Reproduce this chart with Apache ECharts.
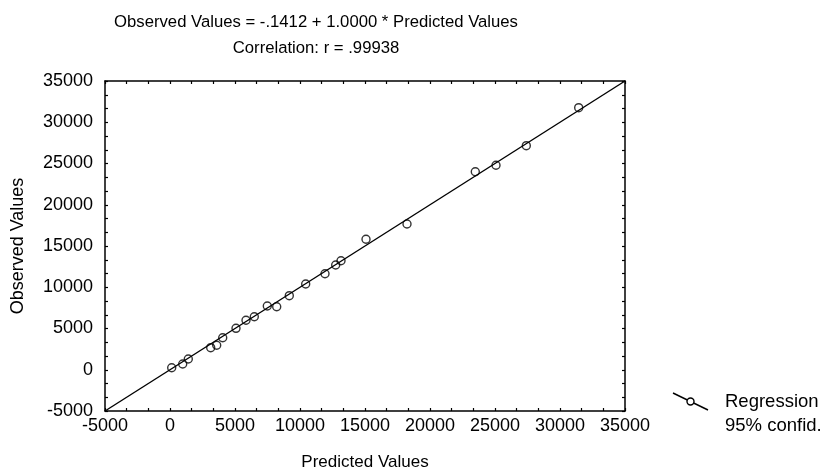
<!DOCTYPE html>
<html>
<head>
<meta charset="utf-8">
<script src="https://cdn.jsdelivr.net/npm/echarts@6/dist/echarts.min.js"></script>
<style>
  html, body { margin: 0; padding: 0; background: #fff; }
  #chart { width: 824px; height: 471px; }
</style>
</head>
<body>
<div id="chart"></div>
<script>
// values
const predicted = [131, 977, 1408, 3131, 3592, 4054, 5077, 5846, 6485, 7485, 8208,
  9177, 10438, 11923, 12746, 13154, 15077, 18231, 23485, 25077, 27408, 31438];
const observed = [248, 697, 1303, 2673, 2964, 3885, 5024, 5994, 6430, 7727, 7642,
  8976, 10394, 11642, 12697, 13218, 15812, 17667, 24006, 24782, 27158, 31764];

// fitted line: Observed = -.1412 + 1.0000 * Predicted, drawn across the axis range
const lineX = [-5000, 35000];
const lineY = [-5000.1412, 34999.8588];

const titleLines = ['Observed Values = -.1412 + 1.0000 * Predicted Values', 'Correlation: r = .99938'];
const legendLabels = ['Regression', '95% confid.'];

const FONT = '"Liberation Sans", Arial, sans-serif';

const chart = echarts.init(document.getElementById('chart'));

const baseAxis = {
  type: 'value',
  min: -5000,
  max: 35000,
  interval: 5000,
  axisLine: { show: true, onZero: false, lineStyle: { color: '#000', width: 1.5 } },
  axisTick: { show: true, inside: true, length: 3, lineStyle: { color: '#000', width: 1.2 } },
  minorTick: { show: true, splitNumber: 3, length: 3, lineStyle: { color: '#000', width: 1.2 } },
  splitLine: { show: false },
  axisLabel: {
    color: '#000',
    fontFamily: FONT,
    fontSize: 18,
    formatter: (v) => String(v),
  },
};

chart.setOption({
  animation: false,
  grid: { left: 105, right: 199, top: 81, bottom: 60, containLabel: false, outerBoundsMode: 'none' },
  xAxis: [
    {
      ...baseAxis,
      position: 'bottom',
      name: 'Predicted Values',
      nameLocation: 'middle',
      nameGap: 43,
      nameTextStyle: { color: '#000', fontFamily: FONT, fontSize: 17 },
      axisLabel: { ...baseAxis.axisLabel, margin: 6 },
    },
    { ...baseAxis, position: 'top', axisLabel: { show: false } },
  ],
  yAxis: [
    {
      ...baseAxis,
      position: 'left',
      name: 'Observed Values',
      nameLocation: 'middle',
      nameGap: 78,
      nameTextStyle: { color: '#000', fontFamily: FONT, fontSize: 18 },
      axisLabel: { ...baseAxis.axisLabel, margin: 12 },
    },
    { ...baseAxis, position: 'right', axisLabel: { show: false } },
  ],
  series: [
    {
      type: 'line',
      data: lineX.map((x, i) => [x, lineY[i]]),
      showSymbol: false,
      lineStyle: { color: '#000', width: 1.4 },
      silent: true,
      z: 2,
    },
    {
      type: 'scatter',
      data: predicted.map((x, i) => [x, observed[i]]),
      symbol: 'circle',
      symbolSize: 8,
      itemStyle: { color: 'rgba(255,255,255,0)', borderColor: '#000', borderWidth: 1.4 },
      z: 3,
    },
  ],
  graphic: [
    {
      type: 'text', x: 316, y: 22,
      style: { text: titleLines[0], fill: '#000', font: `16.7px ${FONT}`, align: 'center', verticalAlign: 'middle' },
    },
    {
      type: 'text', x: 316, y: 48,
      style: { text: titleLines[1], fill: '#000', font: `16.7px ${FONT}`, align: 'center', verticalAlign: 'middle' },
    },
    {
      type: 'line',
      shape: { x1: 673, y1: 393, x2: 708, y2: 410 },
      style: { stroke: '#000', lineWidth: 1.4 },
    },
    {
      type: 'circle',
      shape: { cx: 690.5, cy: 401.5, r: 3.5 },
      style: { fill: '#fff', stroke: '#000', lineWidth: 1.4 },
    },
    {
      type: 'text', x: 725, y: 402,
      style: { text: legendLabels[0], fill: '#000', font: `18.5px ${FONT}`, verticalAlign: 'middle' },
    },
    {
      type: 'text', x: 725, y: 426,
      style: { text: legendLabels[1], fill: '#000', font: `18.5px ${FONT}`, verticalAlign: 'middle' },
    },
  ],
});
</script>
</body>
</html>
